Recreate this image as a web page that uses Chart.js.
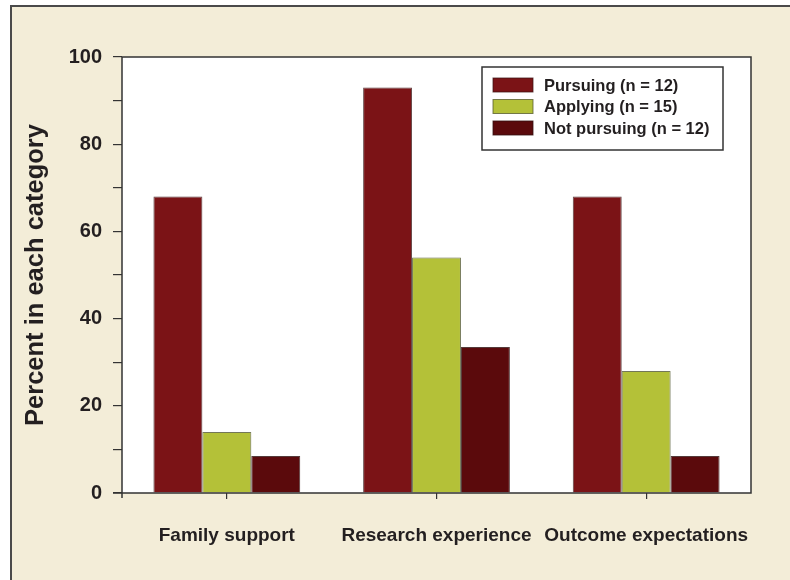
<!DOCTYPE html>
<html lang="en">
<head>
<meta charset="UTF-8">
<title>Percent in each category</title>
<script src="https://cdn.jsdelivr.net/npm/chart.js"></script>
<style>
body {
  margin: 0; padding: 0;
  background: #fff;
  width: 790px; height: 580px;
  overflow: hidden;
  position: relative;
}
.frame {
  position: absolute;
  left: 10px; top: 5px;
  width: 820px; height: 620px;
  background: #f3edd8;
  border-left: 2px solid #4a4a4a;
  border-top: 2px solid #4a4a4a;
}
canvas {
  position: absolute;
  left: 0; top: 0;
}
</style>
</head>
<body>
<div class="frame"></div>
<canvas id="chart" width="790" height="580"></canvas>

<script>
const categories = ["Family support", "Research experience", "Outcome expectations"];
const seriesNames = ["Pursuing (n = 12)", "Applying (n = 15)", "Not pursuing (n = 12)"];
const pursuing = [68, 93, 68];
const applying = [14, 54, 28];
const notPursuing = [8.5, 33.5, 8.5];
const yTicks = [0, 20, 40, 60, 80, 100];

const fillColors = ["#7b1316", "#b4c138", "#5b0a0c"];
const edgeColors = ["rgba(60,20,20,0.75)", "rgba(80,85,40,0.75)", "rgba(50,15,15,0.8)"];
const font = "'Liberation Sans', Arial, sans-serif";
const ink = "#231f20";

// white plot area + frame around it
const plotFrame = {
  id: 'plotFrame',
  beforeDraw(chart) {
    const a = chart.chartArea, ctx = chart.ctx;
    ctx.save();
    ctx.fillStyle = '#fff';
    ctx.fillRect(a.left, a.top, a.right - a.left, a.bottom - a.top);
    ctx.restore();
  },
  afterDraw(chart) {
    const a = chart.chartArea, ctx = chart.ctx;
    ctx.save();
    ctx.strokeStyle = '#333';
    ctx.lineWidth = 1.5;
    ctx.beginPath();
    ctx.moveTo(a.left, a.bottom + 5);
    ctx.lineTo(a.left, a.top);
    ctx.lineTo(a.right, a.top);
    ctx.lineTo(a.right, a.bottom);
    ctx.lineTo(a.left - 9, a.bottom);
    ctx.stroke();
    ctx.restore();
  },
  beforeDatasetsDraw(chart) {
    const ctx = chart.ctx;
    ctx.save();
    ctx.shadowColor = 'rgba(0,0,0,0.18)';
    ctx.shadowBlur = 5;
  },
  afterDatasetsDraw(chart) {
    chart.ctx.restore();
  }
};

// boxed legend inside the plot, top right
const boxLegend = {
  id: 'boxLegend',
  afterDraw(chart) {
    const a = chart.chartArea, ctx = chart.ctx;
    const w = 241, h = 83;
    const x = a.right - 28 - w, y = a.top + 10;
    ctx.save();
    ctx.fillStyle = '#fff';
    ctx.fillRect(x, y, w, h);
    ctx.strokeStyle = '#333';
    ctx.lineWidth = 1.5;
    ctx.strokeRect(x, y, w, h);
    ctx.font = "bold 16.5px " + font;
    ctx.textBaseline = 'middle';
    chart.data.datasets.forEach((ds, i) => {
      const cy = y + 18 + i * 21.5;
      ctx.fillStyle = ds.backgroundColor;
      ctx.fillRect(x + 11, cy - 7, 40, 14);
      ctx.strokeStyle = ds.borderColor;
      ctx.lineWidth = 1;
      ctx.strokeRect(x + 11, cy - 7, 40, 14);
      ctx.fillStyle = ink;
      ctx.fillText(ds.label, x + 62, cy + 1);
    });
    ctx.restore();
  }
};

new Chart(document.getElementById("chart"), {
  type: 'bar',
  data: {
    labels: categories,
    datasets: [pursuing, applying, notPursuing].map((d, i) => ({
      label: seriesNames[i],
      data: d,
      backgroundColor: fillColors[i],
      borderColor: edgeColors[i],
      borderWidth: 1,
      categoryPercentage: 0.7,
      barPercentage: 1.0
    }))
  },
  options: {
    responsive: false,
    animation: false,
    layout: { padding: { left: 0, top: 57, right: 39, bottom: 0 } },
    plugins: {
      legend: { display: false },
      tooltip: { enabled: false }
    },
    scales: {
      x: {
        afterFit: s => { s.height = 87; },
        border: { display: false },
        grid: { drawOnChartArea: false, offset: false, tickLength: 6, color: '#333', lineWidth: 1.2 },
        ticks: {
          color: ink, padding: 25, maxRotation: 0, minRotation: 0, autoSkip: false,
          font: { family: font, size: 19, weight: 'bold' }
        }
      },
      y: {
        min: 0, max: 100,
        afterFit: s => { s.width = 122; },
        border: { display: false },
        grid: { drawOnChartArea: false, tickLength: 9, color: '#333', lineWidth: 1.2 },
        ticks: {
          stepSize: 10,
          padding: 11,
          color: ink,
          font: { family: font, size: 20, weight: 'bold' },
          callback: v => yTicks.includes(v) ? String(v) : ''
        },
        title: {
          display: true,
          text: 'Percent in each category',
          color: ink,
          font: { family: font, size: 25.5, weight: 'bold' },
          padding: { top: 21, bottom: 0 }
        }
      }
    }
  },
  plugins: [plotFrame, boxLegend]
});
</script>
</body>
</html>
